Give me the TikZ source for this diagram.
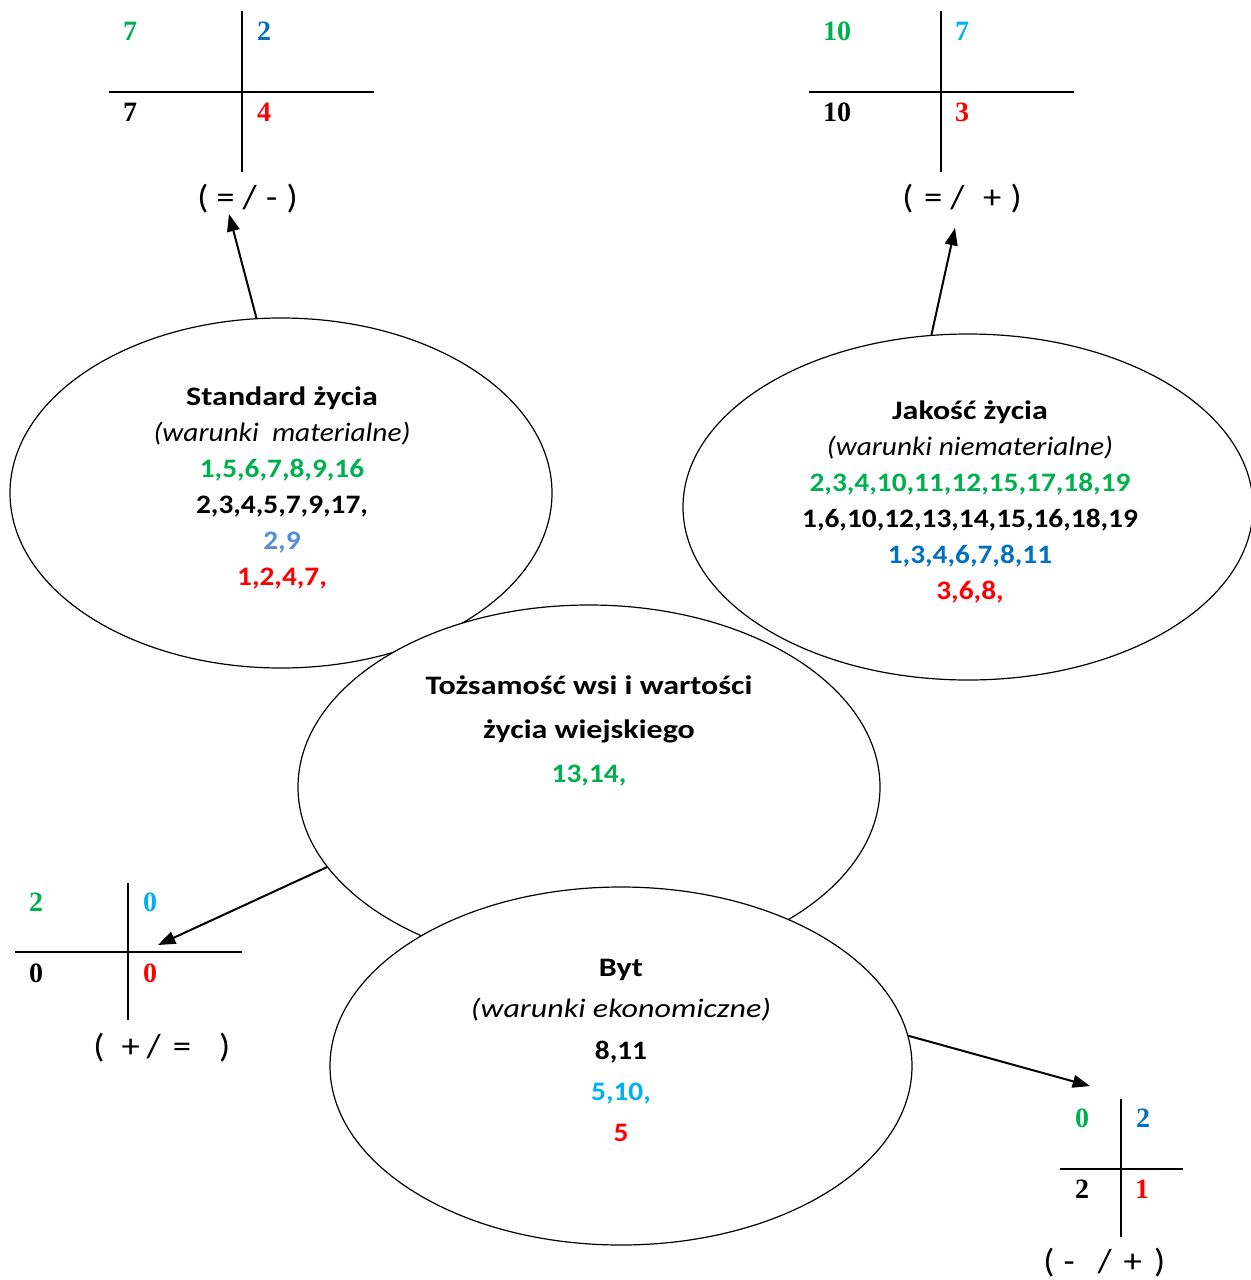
\documentclass[tikz,border=0pt]{standalone}
\usepackage{fontspec}
\setmainfont[FakeStretch=1.2]{Carlito}
\newfontfamily\narrowcal[FakeStretch=1.1]{Carlito}
\newfontfamily\numfont{Liberation Serif}
\usetikzlibrary{shapes.geometric,arrows.meta}
\definecolor{cgreen}{HTML}{00B050}
\definecolor{cblue}{HTML}{0070C0}
\definecolor{ccyan}{HTML}{00B0F0}
\definecolor{cred}{HTML}{FF0000}
\definecolor{clblue}{HTML}{558ED5}
\newcommand{\nl}[1]{{\narrowcal\bfseries #1}}
\begin{document}
\begin{tikzpicture}[x=0.75pt,y=-0.75pt,
  oval/.style={ellipse, draw, fill=white, line width=0.9pt, inner sep=0pt},
  conn/.style={line width=1.5pt, -{Triangle[length=13pt,width=9.5pt]}},
  cross/.style={line width=1.5pt},
  num/.style={font=\numfont\bfseries\fontsize{21}{24}\selectfont, inner sep=0pt},
  sign/.style={font=\narrowcal\fontsize{25}{30}\selectfont, inner sep=0pt, anchor=west},
  block/.style={align=center, inner sep=0pt}]
\useasboundingbox[fill=white] (0,0) rectangle (1251,1280);

% ellipses
\node[oval, minimum width=406.5pt, minimum height=262.5pt] (std) at (281,493) {};
\node[oval, minimum width=427.5pt, minimum height=259.5pt] (jak) at (968,507) {};
\node[oval, minimum width=436.5pt, minimum height=273pt] (toz) at (589,787) {};
\node[oval, minimum width=436.5pt, minimum height=268.5pt] (byt) at (621,1066) {};

% ellipse texts
\node[block, font=\fontsize{20}{27}\selectfont] (stdtxt) at (282,487.5)
 {\textbf{Standard życia}\\
  {\narrowcal\itshape (warunki\ \ materialne)}\\
  \textcolor{cgreen}{\nl{1,5,6,7,8,9,16}}\\
  \nl{2,3,4,5,7,9,17,}\\
  \textcolor{clblue}{\nl{2,9}}\\
  \textcolor{cred}{\nl{1,2,4,7,}}};
\node[block, font=\fontsize{20}{27}\selectfont] (jaktxt) at (970,502)
 {\textbf{Jakość życia}\\
  {\narrowcal\itshape (warunki niematerialne)}\\
  \textcolor{cgreen}{\nl{2,3,4,10,11,12,15,17,18,19}}\\
  \nl{1,6,10,12,13,14,15,16,18,19}\\
  \textcolor{cblue}{\nl{1,3,4,6,7,8,11}}\\
  \textcolor{cred}{\nl{3,6,8,}}};
\node[block, font=\fontsize{20}{33}\selectfont] (toztxt) at (589,731)
 {\textbf{Tożsamość wsi i wartości}\\
  \textbf{życia wiejskiego}\\
  \textcolor{cgreen}{\nl{13,14,}}};
\node[block, font=\fontsize{20}{31}\selectfont] (byttxt) at (621,1050.5)
 {\textbf{Byt}\\
  \textit{(warunki ekonomiczne)}\\
  \nl{8,11}\\
  \textcolor{ccyan}{\nl{5,10,}}\\
  \textcolor{cred}{\nl{5}}};

% table 1
\draw[cross] (242,11) -- (242,172);
\draw[cross] (109,92) -- (374,92);
\node[num, text=cgreen] (a1) at (130,31) {7};
\node[num, text=cblue] (a2) at (264,31) {2};
\node[num] (a3) at (130,112) {7};
\node[num, text=cred] (a4) at (264,112) {4};
\node[sign] (l1) at (197,199) {(\hspace{6pt}=\hspace{6pt}/\hspace{7pt}-\hspace{7pt})};
\coordinate (t1) at (229,214);

% table 2
\draw[cross] (941,11) -- (941,172);
\draw[cross] (809,92) -- (1074,92);
\node[num, text=cgreen] (b1) at (837,31) {10};
\node[num, text=ccyan] (b2) at (962,31) {7};
\node[num] (b3) at (837,112) {10};
\node[num, text=cred] (b4) at (962,112) {3};
\node[sign] (l2) at (902,199) {(\hspace{8pt}=\hspace{6pt}/\hspace{14pt}+\hspace{7pt})};
\coordinate (t2) at (955,228);

% table 3
\draw[cross] (128,883) -- (128,1020);
\draw[cross] (15,952) -- (242,952);
\node[num, text=cgreen] (c1) at (36,902) {2};
\node[num, text=ccyan] (c2) at (150,902) {0};
\node[num] (c3) at (36,973) {0};
\node[num, text=cred] (c4) at (150,973) {0};
\node[sign] (l3) at (93,1048) {(\hspace{13pt}+\hspace{5pt}/\hspace{9pt}=\hspace{21pt})};
\coordinate (t3) at (158,945);

% table 4
\draw[cross] (1121,1099) -- (1121,1237);
\draw[cross] (1060,1169) -- (1183,1169);
\node[num, text=cgreen] (d1) at (1082,1118) {0};
\node[num, text=cblue] (d2) at (1143,1118) {2};
\node[num] (d3) at (1082,1189) {2};
\node[num, text=cred] (d4) at (1142,1189) {1};
\node[sign] (l4) at (1043,1263) {(\hspace{7pt}-\hspace{17pt}/\hspace{9pt}+\hspace{9pt})};
\coordinate (t4) at (1090,1086);

% connectors
\draw[conn] (std.98) -- (t1);
\draw[conn] (jak.102) -- (t2);
\draw[conn] (toz.197) -- (t3);
\draw[conn] (byt.6) -- (t4);
\end{tikzpicture}
\end{document}
